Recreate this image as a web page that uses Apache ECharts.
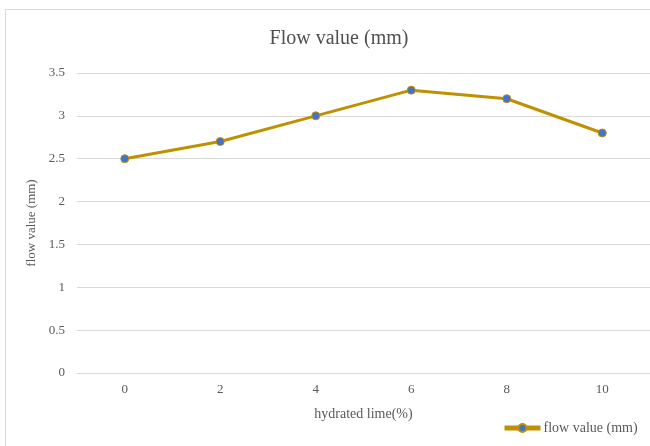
<!DOCTYPE html>
<html>
<head>
<meta charset="utf-8">
<script src="https://cdn.jsdelivr.net/npm/echarts@6/dist/echarts.min.js"></script>
<style>
	html, body { margin: 0; padding: 0; background: #fff; }
	#main { width: 650px; height: 446px; }
</style>
</head>
<body>
<div id="main"></div>
<script>
// data
var categories = ['0', '2', '4', '6', '8', '10'];
var flowValues = [2.5, 2.7, 3.0, 3.3, 3.2, 2.8];
var seriesName = 'flow value (mm)';

var serif = '"Liberation Serif", "Times New Roman", serif';
var textColor = '#595959';

var myChart = echarts.init(document.getElementById('main'));
var option = {
	backgroundColor: '#fff',
	animation: false,
	textStyle: { fontFamily: serif },
	graphic: [{
		type: 'rect',
		shape: { x: 5.5, y: 9.5, width: 700, height: 500 },
		style: { fill: 'none', stroke: '#d9d9d9', lineWidth: 1 },
		silent: true
	}],
	title: {
		text: 'Flow value (mm)',
		left: 334,
		top: 24,
		textAlign: 'center',
		textStyle: { fontFamily: serif, fontSize: 20, fontWeight: 'normal', color: '#505050' }
	},
	legend: {
		left: 502,
		top: 421,
		padding: 0,
		itemWidth: 36,
		itemHeight: 10,
		lineStyle: { width: 5 },
		textStyle: { fontFamily: serif, fontSize: 14, color: textColor, padding: [0, 0, 0, -2] },
		data: [seriesName]
	},
	grid: { left: 77, top: 73, width: 576, height: 300, containLabel: false },
	xAxis: {
		type: 'category',
		data: categories,
		boundaryGap: true,
		name: 'hydrated lime(%)',
		nameLocation: 'middle',
		nameGap: 34,
		nameTextStyle: { fontFamily: serif, fontSize: 14, color: textColor },
		axisLine: { lineStyle: { color: '#d9d9d9' } },
		axisTick: { show: false },
		axisLabel: { fontFamily: serif, fontSize: 13, color: textColor, margin: 10 }
	},
	yAxis: {
		type: 'value',
		min: 0,
		max: 3.5,
		interval: 0.5,
		name: 'flow value (mm)',
		nameLocation: 'middle',
		nameGap: 36,
		nameRotate: 90,
		nameTextStyle: { fontFamily: serif, fontSize: 13, color: textColor },
		axisLine: { show: false },
		axisTick: { show: false },
		axisLabel: { fontFamily: serif, fontSize: 13, color: textColor, margin: 12 },
		splitLine: { lineStyle: { color: '#d9d9d9', width: 1 } }
	},
	series: [{
		name: seriesName,
		type: 'line',
		data: flowValues,
		symbol: 'circle',
		symbolSize: 8,
		lineStyle: { color: '#BF9000', width: 3 },
		itemStyle: { color: '#4472C4', borderColor: '#BF9000', borderWidth: 1 }
	}]
};
myChart.setOption(option);
</script>
</body>
</html>
